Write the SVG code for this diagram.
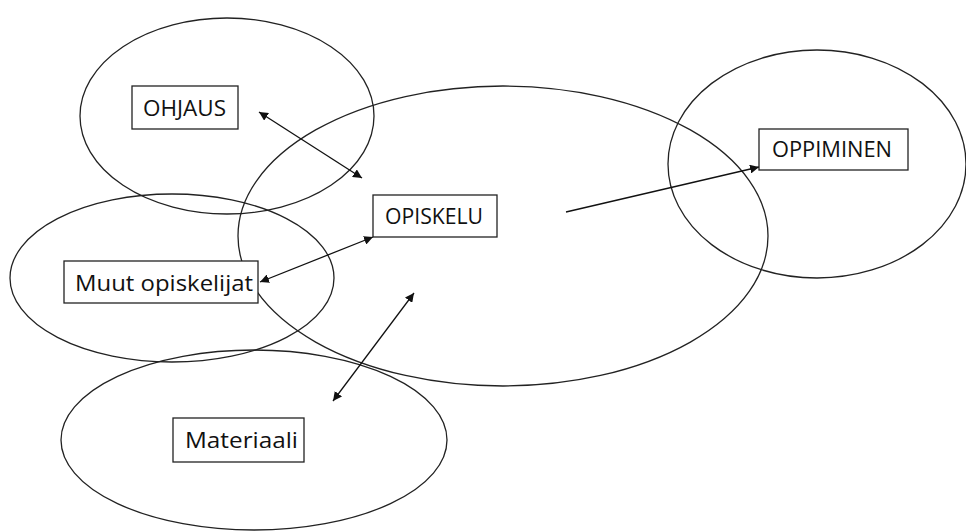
<svg xmlns="http://www.w3.org/2000/svg" width="966" height="532" viewBox="0 0 966 532">
<style>
.ell{fill:none;stroke:#222;stroke-width:1.3}
.box{fill:#fff;stroke:#222;stroke-width:1.3}
.lbl{font-family:"Open Sans","Liberation Sans",Arial,sans-serif;font-size:21px;fill:#111;text-anchor:middle}
.con{stroke:#111;stroke-width:1.3;fill:none}
</style>
<defs>
<marker id="ah" viewBox="0 0 10 10" refX="10" refY="5" markerWidth="9" markerHeight="9" markerUnits="userSpaceOnUse" orient="auto-start-reverse">
<path d="M0,0 L10,5 L0,10 z" fill="#111"/>
</marker>
</defs>
<rect width="966" height="532" fill="#fff"/>
<g id="ellipses">
<ellipse class="ell" cx="227" cy="116" rx="147" ry="98"/>
<ellipse class="ell" cx="503" cy="236" rx="265" ry="150"/>
<ellipse class="ell" cx="817" cy="164" rx="149" ry="114"/>
<ellipse class="ell" cx="172" cy="278" rx="162" ry="84"/>
<ellipse class="ell" cx="254" cy="440" rx="193" ry="90"/>
</g>
<g id="connectors">
<line class="con" x1="259" y1="112" x2="362" y2="178" marker-start="url(#ah)" marker-end="url(#ah)"/>
<line class="con" x1="260" y1="282" x2="373" y2="237" marker-start="url(#ah)" marker-end="url(#ah)"/>
<line class="con" x1="414" y1="293" x2="333" y2="401" marker-start="url(#ah)" marker-end="url(#ah)"/>
<line class="con" x1="566" y1="212" x2="759" y2="167" marker-end="url(#ah)"/>
</g>
<g id="ohjaus">
<rect class="box" x="132" y="86" width="106" height="43"/>
<text class="lbl" x="184.5" y="116" textLength="83" lengthAdjust="spacingAndGlyphs">OHJAUS</text>
</g>
<g id="opiskelu">
<rect class="box" x="373" y="195" width="124" height="42"/>
<text class="lbl" x="434" y="224" textLength="98" lengthAdjust="spacingAndGlyphs">OPISKELU</text>
</g>
<g id="muut">
<rect class="box" x="64" y="261" width="194" height="42"/>
<text class="lbl" x="164" y="291" textLength="178" lengthAdjust="spacingAndGlyphs">Muut opiskelijat</text>
</g>
<g id="oppiminen">
<rect class="box" x="759" y="129" width="149" height="41"/>
<text class="lbl" x="832" y="157" textLength="120" lengthAdjust="spacingAndGlyphs">OPPIMINEN</text>
</g>
<g id="materiaali">
<rect class="box" x="173" y="418" width="131" height="44"/>
<text class="lbl" x="241.5" y="448" textLength="113" lengthAdjust="spacingAndGlyphs">Materiaali</text>
</g>
</svg>
